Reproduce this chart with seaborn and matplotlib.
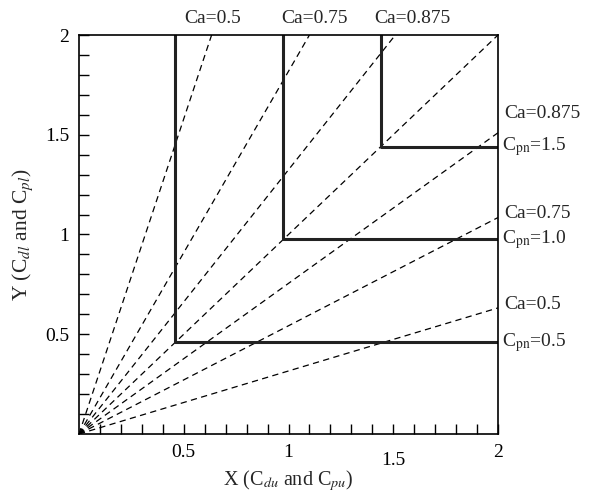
import numpy as np
import pandas as pd
import matplotlib
matplotlib.use("Agg")
import matplotlib.pyplot as plt
import matplotlib.transforms as mtransforms
import seaborn as sns

# ---- data ----
ray_top_x = [0.633, 1.10, 1.51, 2.0]     # rays ending on the top edge (y = 2)
ray_right_y = [1.51, 1.085, 0.632]       # rays ending on the right edge (x = 2)
corner_vals = [0.46, 0.975, 1.44]        # corners of the solid L-shaped lines
ca_labels = ["Ca=0.5", "Ca=0.75", "Ca=0.875"]
cpn_labels = ["C$_{\\mathrm{pn}}$=0.5", "C$_{\\mathrm{pn}}$=1.0", "C$_{\\mathrm{pn}}$=1.5"]
x_ticks = [0.5, 1, 1.5, 2]
x_ticklabels = ["0.5", "1", "1.5", "2"]
y_ticks = [0.5, 1, 1.5, 2]
y_ticklabels = ["0.5", "1", "1.5", "2"]

sns.set_style("white")
plt.rcParams["font.family"] = ["Liberation Serif", "DejaVu Serif"]
plt.rcParams["mathtext.fontset"] = "stix"

# build tables
rows = []
rid = 0
for xt in ray_top_x:
    rows += [(rid, 0.0, 0.0), (rid, xt, 2.0)]
    rid += 1
for yr in ray_right_y:
    rows += [(rid, 0.0, 0.0), (rid, 2.0, yr)]
    rid += 1
rays = pd.DataFrame(rows, columns=["ray", "x", "y"])

lrows = []
for i, c in enumerate(corner_vals):
    lrows += [(i, c, 2.0), (i, c, c), (i, 2.0, c)]
ls = pd.DataFrame(lrows, columns=["id", "x", "y"])

fig = plt.figure(figsize=(5.97, 4.94), dpi=100)
ax = fig.add_axes([79 / 597, 1 - 434 / 494, 419 / 597, 399 / 494])

sns.lineplot(data=rays, x="x", y="y", units="ray", estimator=None, sort=False,
             color="black", lw=0.9, ax=ax)
for line in ax.get_lines():
    line.set_dashes([5, 3.5])
sns.lineplot(data=ls, x="x", y="y", units="id", estimator=None, sort=False,
             color="#222222", lw=2.2, ax=ax)

ax.set_xlim(0, 2)
ax.set_ylim(0, 2)

minor = np.round(np.arange(0.1, 2.0, 0.1), 2)
ax.set_xticks(x_ticks)
ax.set_xticklabels(x_ticklabels)
ax.set_yticks(y_ticks)
ax.set_yticklabels(y_ticklabels)
ax.set_xticks(minor, minor=True)
ax.set_yticks(minor, minor=True)
ax.tick_params(axis="both", which="both", direction="in", length=7, width=1,
               bottom=True, left=True, top=False, right=False, labelsize=14,
               colors="black", pad=7)
for s in ax.spines.values():
    s.set_color("black")
    s.set_linewidth(1.2)

# the 1.5 label sits a bit lower in the reference
lbl = ax.get_xticklabels()[2]
lbl.set_transform(lbl.get_transform() + mtransforms.ScaledTranslation(0, -6 / 72, fig.dpi_scale_trans))

ax.set_xlabel(r"X (C$_{du}$ and C$_{pu}$)", fontsize=14.5)
ax.xaxis.set_label_coords(0.5, -0.085)
ax.set_ylabel(r"Y (C$_{dl}$ and C$_{pl}$)", fontsize=15.5)
ax.yaxis.set_label_coords(-0.105, 0.5)

# top labels
top_off = [0.18, 0.15, 0.15]
for c, t, o in zip(corner_vals, ca_labels, top_off):
    ax.text(c + o, 2.04, t, ha="center", va="bottom", fontsize=14, clip_on=False)
# right labels
right_off = [0.19, 0.13, 0.165]
for c, t, p, o in zip(corner_vals, ca_labels, cpn_labels, right_off):
    ax.text(2.03, c + o, t, ha="left", va="center", fontsize=14, clip_on=False)
    ax.text(2.02, c, p, ha="left", va="center", fontsize=14, clip_on=False)

fig.savefig("out.png", dpi=100)
